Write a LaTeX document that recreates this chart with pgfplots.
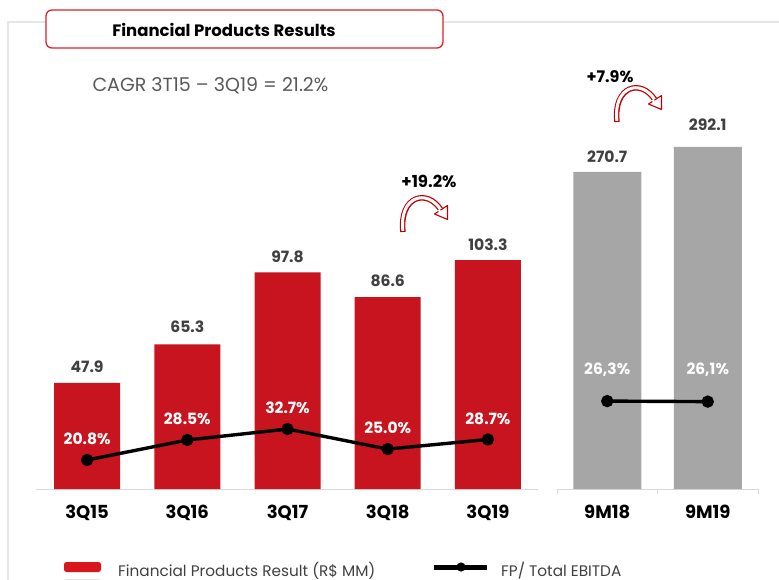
\documentclass[border=0pt]{standalone}
\usepackage{pgfplots}
\pgfplotsset{compat=1.18}
\usepackage{pgfplotstable}
\usepackage{fontspec}
\setmainfont{Poppins}
\definecolor{barred}{HTML}{C8141E}
\definecolor{bargray}{HTML}{A6A6A6}
\definecolor{valgray}{HTML}{404040}
\definecolor{axisgray}{HTML}{D9D9D9}
\definecolor{framegray}{HTML}{E6E6E6}
\definecolor{boxred}{HTML}{E0202A}
\definecolor{arrred}{HTML}{C00000}
\definecolor{cagrgray}{HTML}{595959}
\definecolor{legred}{HTML}{D9161E}

\pgfplotstableread{
x y lab s
0 47.9 47.9 7
1 65.3 65.3 8
2 97.8 97.8 6
3 86.6 86.6 7
4 103.3 103.3 6
}\qbars
\pgfplotstableread{
x y lab
0 20.8 20.8
1 28.5 28.5
2 32.7 32.7
3 25.0 25.0
4 28.7 28.7
}\qline
\pgfplotstableread{
x y lab s
0 270.7 270.7 6
1 292.1 292.1 13
}\mbars
\pgfplotstableread{
x y lab
0 26.3 26,3
1 26.1 26,1
}\mline

\pgfplotsset{
  valstyle/.style={
    point meta=explicit symbolic,
    nodes near coords={\pgfplotspointmeta},
    visualization depends on={\thisrow{s}\as\myshift},
    every node near coord/.append style={font=\bfseries\fontsize{15.6}{15.6}\selectfont, text=valgray, yshift=\myshift pt},
  },
  baraxis/.style={
    scale only axis, ymin=0,
    axis y line=none, axis x line=bottom,
    x axis line style={-, draw=axisgray, line width=1pt},
    xtick style={draw=none},
    xticklabel style={font=\bfseries\fontsize{18}{18}\selectfont, text=black},
    xticklabel shift=8pt,
    anchor=south west,
  },
  lineaxis/.style={
    scale only axis, axis lines=none, anchor=south west,
    clip=false,
  },
  linestyle/.style={
    black, line width=3.4pt, mark=*, mark size=4.4pt,
    point meta=explicit symbolic,
    nodes near coords={\pgfplotspointmeta\%},
    every node near coord/.append style={font=\bfseries\fontsize{15.5}{15.5}\selectfont, text=white},
  },
}

\begin{document}
\begin{tikzpicture}
\path[use as bounding box] (0pt,0pt) rectangle (779pt,-580pt);

\begin{scope}[x=1pt,y=-1pt]
  % frame
  \draw[framegray, line width=1.5pt] (8,580) -- (8,22) -- (46,22);
  \draw[framegray, line width=1.5pt] (443,22) -- (779,22);
  % title box
  \draw[boxred, line width=1.3pt, rounded corners=6pt, fill=white] (46,10) rectangle (443,48);
  \node[font=\bfseries\fontsize{16.5}{16.5}\selectfont, text=black] at (224,30) {Financial Products Results};
  \node[anchor=west, font=\fontsize{19}{19}\selectfont, text=cagrgray] at (89,86) {CAGR 3T15 – 3Q19 = 21.2\%};
  \node[font=\bfseries\fontsize{16.5}{16.5}\selectfont] at (429,181) {+19.2\%};
  \node[font=\bfseries\fontsize{16}{16}\selectfont] at (610,77) {+7.9\%};
  % curved arrows
  \foreach \ox/\oy in {403/232, 617/122}{
    \begin{scope}[shift={(\ox,\oy)}]
      \draw[arrred, line width=5.5pt] (0,0) .. controls (-4,-36) and (24,-44) .. (38,-22);
      \draw[white, line width=3pt, shorten <=1.2pt] (0,0) .. controls (-4,-36) and (24,-44) .. (38,-22);
      \filldraw[fill=white, draw=arrred, line width=1.1pt, line join=round] (31.5,-18.0) -- (44.5,-12.5) -- (44.5,-26.5) -- cycle;
      \fill[white] (36.2,-21.3) circle (1.5pt);
    \end{scope}
  }
  % legend
  \fill[legred, rounded corners=2.5pt] (64,562) rectangle (101,572);
  \fill[framegray, rounded corners=2.5pt] (64,579) rectangle (101,589);
  \node[anchor=base west, font=\fontsize{15.3}{15.3}\selectfont, text=valgray, inner sep=0pt] at (118,576) {Financial Products Result (R\$ MM)};
  \draw[black, line width=5pt] (434,567) -- (487,567);
  \fill[black] (461,567) circle (4.6pt);
  \node[anchor=base west, font=\fontsize{15.3}{15.3}\selectfont, text=valgray, inner sep=0pt] at (501,576) {FP/ Total EBITDA};
\end{scope}

% left panel bars
\begin{axis}[baraxis, at={(36pt,-489pt)}, width=502pt, height=443pt,
  xmin=-0.51, xmax=4.5, ymax=200,
  ybar, bar width=66pt,
  xtick={0,1,2,3,4}, xticklabels={3Q15,3Q16,3Q17,3Q18,3Q19},
  valstyle]
\addplot[fill=barred, draw=none] table[x=x,y=y,meta=lab] {\qbars};
\end{axis}

% left panel line
\begin{axis}[lineaxis, at={(36pt,-489pt)}, width=502pt, height=443pt,
  xmin=-0.51, xmax=4.5, ymin=9.65, ymax=180]
\addplot[linestyle, every node near coord/.append style={yshift=10pt}]
  table[x=x,y=y,meta=lab] {\qline};
\end{axis}

% right panel bars
\begin{axis}[baraxis, at={(557pt,-489pt)}, width=201pt, height=445pt,
  xmin=-0.5, xmax=1.5, ymax=380,
  ybar, bar width=68pt,
  xtick={0,1}, xticklabels={9M18,9M19},
  minor xtick={-0.5,0.5,1.5},
  minor x tick style={draw=axisgray, line width=1pt},
  minor tick length=5pt, tick align=outside,
  valstyle]
\addplot[fill=bargray, draw=none] table[x=x,y=y,meta=lab] {\mbars};
\end{axis}

% right panel line
\begin{axis}[lineaxis, at={(557pt,-489pt)}, width=201pt, height=445pt,
  xmin=-0.5, xmax=1.5, ymin=-7.5, ymax=163.6]
\addplot[linestyle, every node near coord/.append style={yshift=20pt}]
  table[x=x,y=y,meta=lab] {\mline};
\end{axis}
\end{tikzpicture}
\end{document}
